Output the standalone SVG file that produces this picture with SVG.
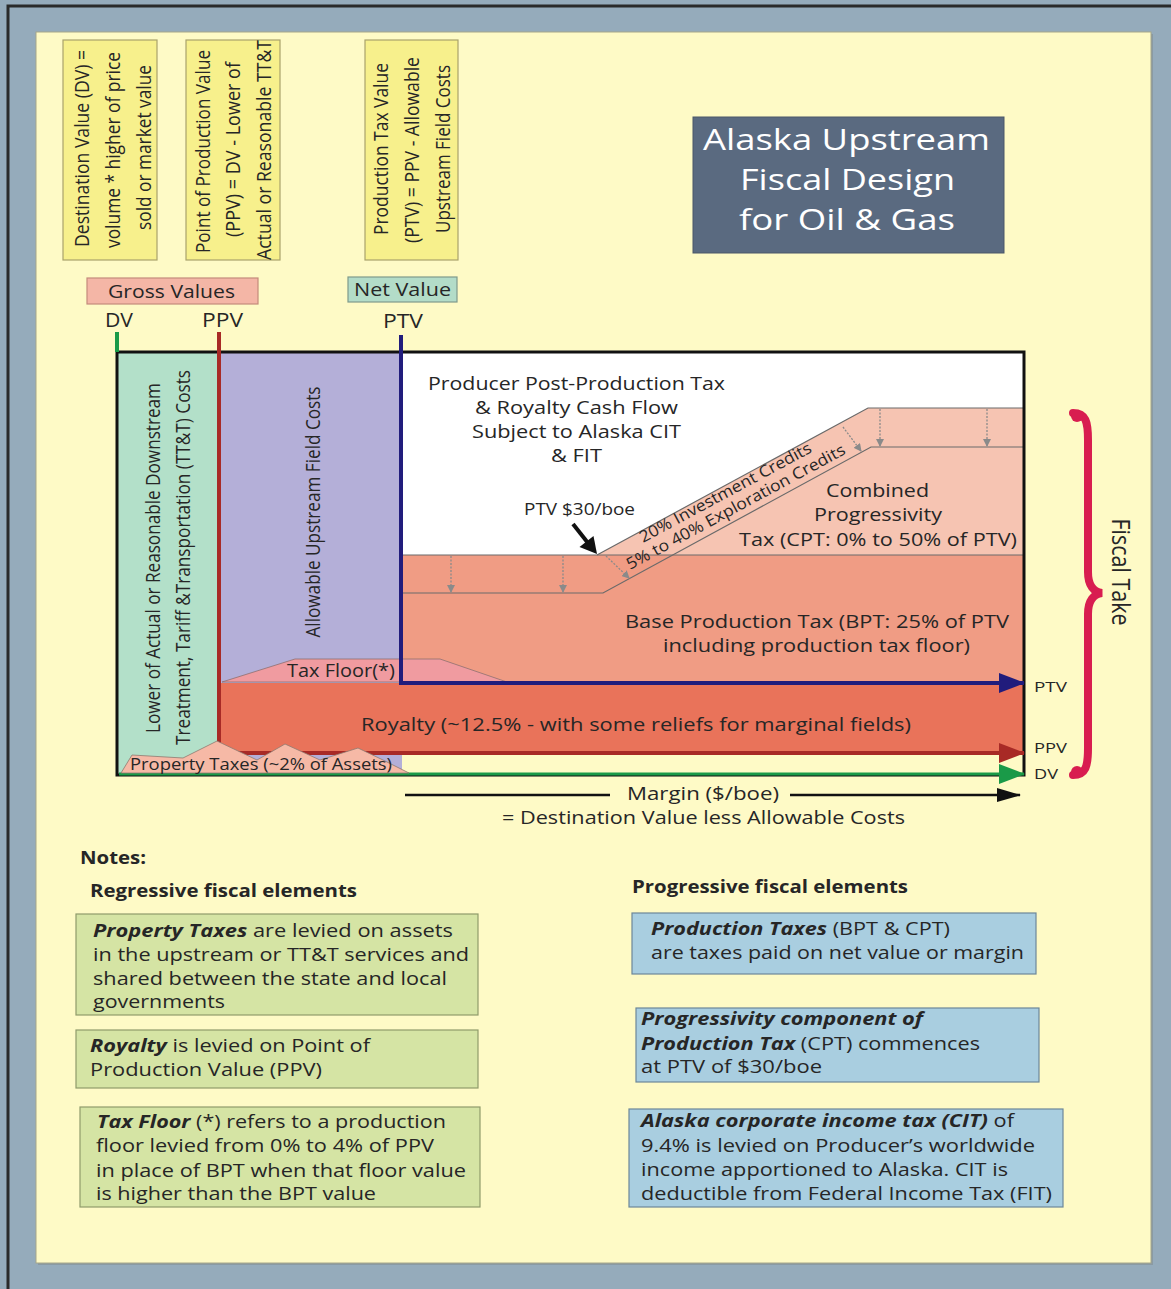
<svg xmlns="http://www.w3.org/2000/svg" width="1171" height="1289" viewBox="0 0 1171 1289">
<defs>
<style>
text{font-family:"Open Sans","Liberation Sans",sans-serif;fill:#262626}
.t18{font-size:18px}
.t16{font-size:16px}
.t15{font-size:15px}
.t20{font-size:20px}
.t21{font-size:20px}
.b{font-weight:bold}
.bi{font-weight:bold;font-style:italic}
.ybox{fill:#f7f08c;stroke:#a9a26c;stroke-width:1.2}
.gnote{fill:#d5e4a4;stroke:#8f9b6c;stroke-width:1.2}
.bnote{fill:#a9cee0;stroke:#6d8799;stroke-width:1.2}
.seg{fill:none;stroke:#6a6a6a;stroke-width:1.2}
.dot{fill:none;stroke:#8a8a8a;stroke-width:1.3;stroke-dasharray:2 1.5}
</style>
<marker id="ahBlue" markerUnits="userSpaceOnUse" markerWidth="26" markerHeight="20" refX="25" refY="10" orient="auto"><path d="M0,0 L26,10 L0,20 Z" fill="#211c7c"/></marker>
<marker id="ahRed" markerUnits="userSpaceOnUse" markerWidth="26" markerHeight="20" refX="25" refY="10" orient="auto"><path d="M0,0 L26,10 L0,20 Z" fill="#a82a26"/></marker>
<marker id="ahGreen" markerUnits="userSpaceOnUse" markerWidth="26" markerHeight="20" refX="25" refY="10" orient="auto"><path d="M0,0 L26,10 L0,20 Z" fill="#1a9a48"/></marker>
<marker id="ahBlack" markerUnits="userSpaceOnUse" markerWidth="24" markerHeight="14" refX="23" refY="7" orient="auto"><path d="M0,0 L24,7 L0,14 Z" fill="#111"/></marker>
<marker id="ahGray" markerUnits="userSpaceOnUse" markerWidth="8" markerHeight="8" refX="7" refY="4" orient="auto"><path d="M0,0 L8,4 L0,8 Z" fill="#8a8a8a"/></marker>
</defs>

<!-- background -->
<rect x="0" y="0" width="1171" height="1289" fill="#95abbb"/>
<rect x="8" y="6" width="1200" height="1300" fill="none" stroke="#2a2a2a" stroke-width="3"/>
<rect x="38" y="34" width="1115" height="1231" fill="#8a9aa3"/>
<rect x="36" y="32" width="1115" height="1231" fill="#fefac6" stroke="#a6a68a" stroke-width="1"/>

<!-- top definition boxes -->
<g id="box-dv">
<rect class="ybox" x="63" y="40" width="94" height="220"/>
<text class="t21" transform="translate(89,148.5) rotate(-90)" text-anchor="middle" textLength="197" lengthAdjust="spacingAndGlyphs">Destination Value (DV) =</text>
<text class="t21" transform="translate(120,150) rotate(-90)" text-anchor="middle" textLength="196" lengthAdjust="spacingAndGlyphs">volume * higher of price</text>
<text class="t21" transform="translate(151,147.5) rotate(-90)" text-anchor="middle" textLength="165" lengthAdjust="spacingAndGlyphs">sold or market value</text>
</g>
<g id="box-ppv">
<rect class="ybox" x="186" y="40" width="94" height="220"/>
<text class="t21" transform="translate(210,151.5) rotate(-90)" text-anchor="middle" textLength="203" lengthAdjust="spacingAndGlyphs">Point of Production Value</text>
<text class="t21" transform="translate(240,149.5) rotate(-90)" text-anchor="middle" textLength="175" lengthAdjust="spacingAndGlyphs">(PPV) = DV -  Lower of</text>
<text class="t21" transform="translate(271,150) rotate(-90)" text-anchor="middle" textLength="220" lengthAdjust="spacingAndGlyphs">Actual or Reasonable TT&amp;T</text>
</g>
<g id="box-ptv">
<rect class="ybox" x="365" y="40" width="93" height="220"/>
<text class="t21" transform="translate(388,149) rotate(-90)" text-anchor="middle" textLength="172" lengthAdjust="spacingAndGlyphs">Production Tax  Value</text>
<text class="t21" transform="translate(419,150) rotate(-90)" text-anchor="middle" textLength="186" lengthAdjust="spacingAndGlyphs">(PTV) = PPV - Allowable</text>
<text class="t21" transform="translate(450,149) rotate(-90)" text-anchor="middle" textLength="168" lengthAdjust="spacingAndGlyphs">Upstream Field Costs</text>
</g>

<!-- title -->
<g id="title">
<rect x="693" y="117" width="311" height="136" fill="#5a6a80" stroke="#4a5668" stroke-width="1"/>
<text x="703" y="150" font-size="30" style="fill:#fff" textLength="287" lengthAdjust="spacingAndGlyphs">Alaska Upstream</text>
<text x="740" y="190" font-size="30" style="fill:#fff" textLength="215" lengthAdjust="spacingAndGlyphs">Fiscal Design</text>
<text x="739" y="230" font-size="30" style="fill:#fff" textLength="216" lengthAdjust="spacingAndGlyphs">for Oil &amp; Gas</text>
</g>

<!-- category labels -->
<g id="gross-values">
<rect x="87" y="278" width="171" height="26" fill="#f4b6a6" stroke="#c48a7c" stroke-width="1.2"/>
<text class="t18" x="108" y="298" textLength="127" lengthAdjust="spacingAndGlyphs">Gross Values</text>
</g>
<g id="net-value">
<rect x="348" y="277" width="109" height="25" fill="#b3dcc8" stroke="#7f9a8c" stroke-width="1.2"/>
<text class="t18" x="354" y="296" textLength="97" lengthAdjust="spacingAndGlyphs">Net Value</text>
</g>
<g id="top-labels">
<text class="t20" x="105" y="327" textLength="28" lengthAdjust="spacingAndGlyphs">DV</text>
<text class="t20" x="202" y="327" textLength="41" lengthAdjust="spacingAndGlyphs">PPV</text>
<text class="t20" x="383" y="328" textLength="40" lengthAdjust="spacingAndGlyphs">PTV</text>
</g>

<!-- chart regions -->
<g id="tt-t-costs">
<rect x="117" y="352" width="102" height="423" fill="#b3e0c9"/>
<text class="t21" transform="translate(160,558) rotate(-90)" text-anchor="middle" textLength="350" lengthAdjust="spacingAndGlyphs">Lower of Actual or Reasonable Downstream</text>
<text class="t21" transform="translate(190,557.5) rotate(-90)" text-anchor="middle" textLength="375" lengthAdjust="spacingAndGlyphs">Treatment, Tariff &amp;Transportation (TT&amp;T) Costs</text>
</g>
<g id="upstream-costs">
<rect x="219" y="352" width="183" height="423" fill="#b4afd8"/>
<text class="t21" transform="translate(320,512) rotate(-90)" text-anchor="middle" textLength="251" lengthAdjust="spacingAndGlyphs">Allowable Upstream Field Costs</text>
</g>
<g id="cash-flow">
<rect x="401" y="352" width="623" height="203" fill="#ffffff"/>
<text class="t18" x="428" y="390" textLength="297" lengthAdjust="spacingAndGlyphs">Producer Post-Production Tax</text>
<text class="t18" x="475" y="414" textLength="203" lengthAdjust="spacingAndGlyphs">&amp; Royalty Cash Flow</text>
<text class="t18" x="472" y="438" textLength="209" lengthAdjust="spacingAndGlyphs">Subject to Alaska CIT</text>
<text class="t18" x="551" y="462" textLength="51" lengthAdjust="spacingAndGlyphs">&amp; FIT</text>
</g>
<g id="bpt">
<rect x="401" y="555" width="623" height="128" fill="#f09c84"/>
<text class="t18" x="625" y="628" textLength="384" lengthAdjust="spacingAndGlyphs">Base Production Tax  (BPT: 25% of PTV</text>
<text class="t18" x="663" y="652" textLength="307" lengthAdjust="spacingAndGlyphs">including production tax floor)</text>
</g>
<g id="cpt">
<polygon points="597,555 868,408 1024,408 1024,555" fill="#f6c4b2"/>
<polyline class="seg" points="401,555 1024,555"/>
<polyline class="seg" points="597,555 868,408 1024,408"/>
<polyline class="seg" points="403,593 603,593 871,447 1024,447"/>
<text class="t18" x="826" y="497" textLength="103" lengthAdjust="spacingAndGlyphs">Combined</text>
<text class="t18" x="814" y="521" textLength="128" lengthAdjust="spacingAndGlyphs">Progressivity</text>
<text class="t18" x="739" y="546" textLength="278" lengthAdjust="spacingAndGlyphs">Tax (CPT: 0% to 50% of PTV)</text>
<text class="t16" x="643" y="543" transform="rotate(-28.3 643 543)" textLength="193" lengthAdjust="spacingAndGlyphs">20% Investment Credits</text>
<text class="t16" x="630" y="570" transform="rotate(-28.3 630 570)" textLength="246" lengthAdjust="spacingAndGlyphs">5% to 40% Exploration Credits</text>
</g>
<g id="credit-arrows">
<line class="dot" x1="451" y1="556" x2="451" y2="592" marker-end="url(#ahGray)"/>
<line class="dot" x1="563" y1="556" x2="563" y2="592" marker-end="url(#ahGray)"/>
<line class="dot" x1="606" y1="556" x2="629" y2="578" marker-end="url(#ahGray)"/>
<line class="dot" x1="843" y1="427" x2="861" y2="451" marker-end="url(#ahGray)"/>
<line class="dot" x1="880" y1="409" x2="880" y2="446" marker-end="url(#ahGray)"/>
<line class="dot" x1="987" y1="409" x2="987" y2="446" marker-end="url(#ahGray)"/>
</g>
<g id="ptv30">
<text class="t16" x="524" y="515" textLength="111" lengthAdjust="spacingAndGlyphs">PTV $30/boe</text>
<line x1="573" y1="524" x2="588" y2="543" stroke="#111" stroke-width="4"/>
<polygon points="597,554 593.5,536 579.5,547" fill="#111"/>
</g>
<g id="tax-floor">
<polygon points="222,682 295,659 440,659 507,682" fill="#f09ba0" stroke="#8e7070" stroke-width="0.8"/>
<text class="t18" x="287" y="677" textLength="108" lengthAdjust="spacingAndGlyphs">Tax Floor(*)</text>
</g>
<g id="royalty">
<rect x="219" y="683" width="805" height="70" fill="#e9735a"/>
<text class="t18" x="361" y="731" textLength="550" lengthAdjust="spacingAndGlyphs">Royalty (~12.5% - with some reliefs for marginal fields)</text>
</g>

<!-- connectors / value lines -->
<g id="connectors">
<rect x="117" y="352" width="907" height="423" fill="none" stroke="#111" stroke-width="3"/>
<line x1="117" y1="332" x2="117" y2="352" stroke="#1a9a48" stroke-width="4"/>
<line x1="219" y1="332" x2="219" y2="753" stroke="#a82a26" stroke-width="4"/>
<line x1="401" y1="335" x2="401" y2="683" stroke="#211c7c" stroke-width="4"/>
<line x1="399" y1="683" x2="1024" y2="683" stroke="#211c7c" stroke-width="4" marker-end="url(#ahBlue)"/>
<line x1="217" y1="753" x2="1024" y2="753" stroke="#a82a26" stroke-width="4" marker-end="url(#ahRed)"/>
<line x1="119" y1="774" x2="1024" y2="774" stroke="#1a9a48" stroke-width="3" marker-end="url(#ahGreen)"/>
<line x1="405" y1="795" x2="610" y2="795" stroke="#111" stroke-width="2.5"/>
<line x1="790" y1="795" x2="1020" y2="795" stroke="#111" stroke-width="2.5" marker-end="url(#ahBlack)"/>
</g>
<g id="property-taxes">
<polygon points="121,773 132,755 183,758 217,741 257,760 285,744 320,760 358,748 383,760 409,773" fill="#f6b9a6" stroke="#8e7a70" stroke-width="0.8"/>
<text class="t16" x="130" y="770" textLength="262" lengthAdjust="spacingAndGlyphs">Property Taxes (~2% of Assets)</text>
</g>
<g id="margin-label">
<text class="t18" x="627" y="800" textLength="152" lengthAdjust="spacingAndGlyphs">Margin ($/boe)</text>
<text class="t18" x="502" y="824" textLength="403" lengthAdjust="spacingAndGlyphs">= Destination Value less Allowable Costs</text>
</g>
<g id="right-labels">
<text class="t15" x="1034" y="692" textLength="33" lengthAdjust="spacingAndGlyphs">PTV</text>
<text class="t15" x="1034" y="753" textLength="33" lengthAdjust="spacingAndGlyphs">PPV</text>
<text class="t15" x="1034" y="779" textLength="24" lengthAdjust="spacingAndGlyphs">DV</text>
</g>
<g id="fiscal-take">
<path d="M1073,413 C1086,413 1088,422 1088,440 L1088,572 C1088,586 1094,592 1102,593 C1094,594 1088,600 1088,614 L1088,748 C1088,766 1086,775 1073,775" fill="none" stroke="#d81d50" stroke-width="8" stroke-linecap="round"/>
<circle cx="1077" cy="416" r="6" fill="#d81d50"/>
<circle cx="1077" cy="772" r="6" fill="#d81d50"/>
<text transform="translate(1112,572) rotate(90)" font-size="25" text-anchor="middle" textLength="107" lengthAdjust="spacingAndGlyphs">Fiscal Take</text>
</g>

<!-- notes -->
<g id="notes-heading">
<text class="t18 b" x="80" y="864" textLength="66" lengthAdjust="spacingAndGlyphs">Notes:</text>
<text class="t18 b" x="90" y="897" textLength="267" lengthAdjust="spacingAndGlyphs">Regressive fiscal elements</text>
<text class="t18 b" x="632" y="893" textLength="276" lengthAdjust="spacingAndGlyphs">Progressive fiscal elements</text>
</g>
<g id="note-property">
<rect class="gnote" x="76" y="914" width="402" height="101"/>
<text class="t18" x="93" y="937" textLength="360" lengthAdjust="spacingAndGlyphs"><tspan class="bi">Property Taxes</tspan>  are levied on assets</text>
<text class="t18" x="93" y="961" textLength="376" lengthAdjust="spacingAndGlyphs">in the upstream or TT&amp;T services and</text>
<text class="t18" x="93" y="985" textLength="354" lengthAdjust="spacingAndGlyphs">shared between the state and local</text>
<text class="t18" x="93" y="1008" textLength="132" lengthAdjust="spacingAndGlyphs">governments</text>
</g>
<g id="note-royalty">
<rect class="gnote" x="76" y="1030" width="402" height="58"/>
<text class="t18" x="90" y="1052" textLength="280" lengthAdjust="spacingAndGlyphs"><tspan class="bi">Royalty</tspan> is levied on Point of</text>
<text class="t18" x="90" y="1076" textLength="232" lengthAdjust="spacingAndGlyphs">Production Value (PPV)</text>
</g>
<g id="note-taxfloor">
<rect class="gnote" x="80" y="1107" width="400" height="100"/>
<text class="t18" x="97" y="1128" textLength="349" lengthAdjust="spacingAndGlyphs"><tspan class="bi">Tax Floor</tspan> (*) refers to a production</text>
<text class="t18" x="96" y="1152" textLength="338" lengthAdjust="spacingAndGlyphs">floor levied from 0% to 4% of PPV</text>
<text class="t18" x="96" y="1177" textLength="370" lengthAdjust="spacingAndGlyphs">in place of BPT when that floor value</text>
<text class="t18" x="96" y="1200" textLength="280" lengthAdjust="spacingAndGlyphs">is higher than the BPT value</text>
</g>
<g id="note-prodtax">
<rect class="bnote" x="632" y="913" width="404" height="61"/>
<text class="t18" x="651" y="935" textLength="299" lengthAdjust="spacingAndGlyphs"><tspan class="bi">Production Taxes</tspan> (BPT &amp; CPT)</text>
<text class="t18" x="651" y="959" textLength="373" lengthAdjust="spacingAndGlyphs">are taxes paid on net value or margin</text>
</g>
<g id="note-cpt">
<rect class="bnote" x="636" y="1008" width="403" height="74"/>
<text class="t18 bi" x="641" y="1025" textLength="282" lengthAdjust="spacingAndGlyphs">Progressivity component of</text>
<text class="t18" x="641" y="1050" textLength="339" lengthAdjust="spacingAndGlyphs"><tspan class="bi">Production Tax</tspan> (CPT) commences</text>
<text class="t18" x="641" y="1073" textLength="181" lengthAdjust="spacingAndGlyphs">at PTV of $30/boe</text>
</g>
<g id="note-cit">
<rect class="bnote" x="629" y="1109" width="434" height="98"/>
<text class="t18" x="641" y="1127" textLength="373" lengthAdjust="spacingAndGlyphs"><tspan class="bi">Alaska corporate income tax (CIT)</tspan> of</text>
<text class="t18" x="641" y="1152" textLength="394" lengthAdjust="spacingAndGlyphs">9.4% is levied on Producer’s worldwide</text>
<text class="t18" x="641" y="1176" textLength="367" lengthAdjust="spacingAndGlyphs">income apportioned to Alaska. CIT is</text>
<text class="t18" x="641" y="1200" textLength="411" lengthAdjust="spacingAndGlyphs">deductible from Federal Income Tax (FIT)</text>
</g>
</svg>
